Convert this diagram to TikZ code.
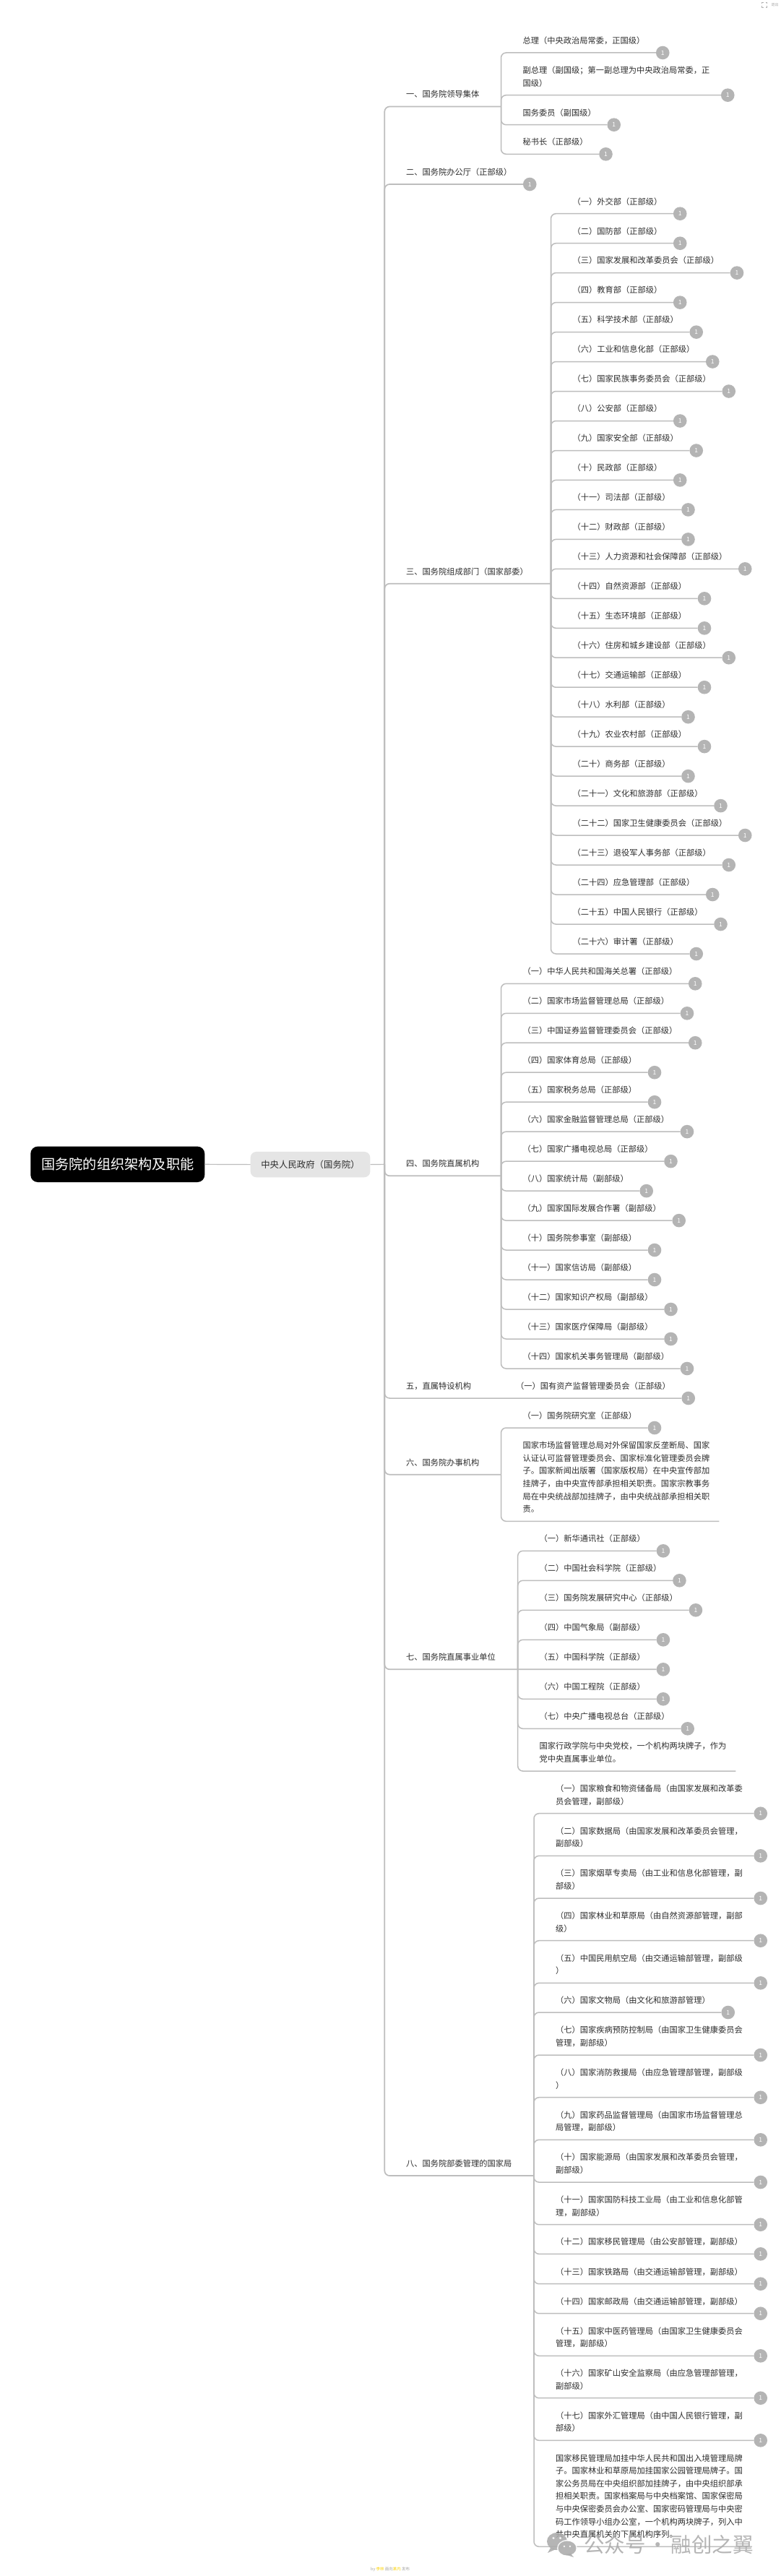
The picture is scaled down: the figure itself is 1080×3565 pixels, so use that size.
\documentclass[tikz,border=0pt]{standalone}
\usepackage{fontspec}
\setmainfont{Noto Sans CJK SC}
\newfontfamily\cjk{Noto Sans CJK SC}
\usetikzlibrary{calc}
\definecolor{linec}{HTML}{BDBDBD}
\definecolor{textc}{HTML}{2E2E2E}
\definecolor{badgec}{HTML}{B4B4B4}
\definecolor{wmc}{HTML}{ABABAB}
\tikzset{
  lab/.style={anchor=south west,inner sep=0pt,outer sep=0pt,align=left,text=textc,
     font={\cjk\fontsize{11.25}{17.6}\selectfont}},
  badge/.style={circle,fill=badgec,minimum size=18.6pt,inner sep=0pt,outer sep=0pt,text=white,
     font={\cjk\fontsize{8.5}{9}\selectfont}},
  conn/.style={draw=linec,line width=1.5pt,rounded corners=7pt},
  trunkline/.style={draw=linec,line width=1.7pt,rounded corners=7pt},
}
\newcommand{\tstr}{\rule[-3pt]{0pt}{1pt}}
% id, junction, box x, line y, text
\newcommand{\lfitem}[5]{%
  \node[lab] (t#1) at (#3,#4-9.7) {#5\tstr};
  \coordinate (y#1) at (0,#4);
  \path (t#1.east) ++(25,0) coordinate (x#1);
  \node[badge] (b#1) at (x#1 |- y#1) {1};
  \draw[conn] (#2) |- (b#1.west);
}
% id, line y, trunk x, text
\newcommand{\brnode}[4]{%
  \node[lab] (t#1) at (562,#2-9.7) {#4\tstr};
  \coordinate (j#1) at (#3,#2);
  \draw[trunkline] (J0) |- (j#1);
}
% id, junction, box x, line y, text
\newcommand{\noteitem}[5]{%
  \node[lab] (t#1) at (#3,#4-9.7) {#5\tstr};
  \coordinate (y#1) at (0,#4);
  \path (t#1.east) ++(13,0) coordinate (x#1);
  \coordinate (e#1) at (x#1 |- y#1);
  \draw[conn] (#2) |- (e#1);
}
\begin{document}
\begin{tikzpicture}[x=1pt,y=-1pt]
\useasboundingbox (0,0) rectangle (1080,3565);
\fill[white] (0,0) rectangle (1080,3565);

% root and centre
\node[fill=black,rounded corners=10pt,text=white,minimum width=241pt,minimum height=49.4pt,inner sep=0pt,
  font={\cjk\fontsize{19.2}{24}\selectfont}] (root) at (162.8,1611.3) {国务院的组织架构及职能};
\node[fill=black!10,rounded corners=8pt,text=textc,minimum width=165.6pt,minimum height=35.3pt,inner sep=0pt,
  font={\cjk\fontsize{12.4}{15}\selectfont}] (cent) at (429.5,1611.6) {中央人民政府（国务院）};
\coordinate (J0) at (532.3,1611.3);
\draw[draw=linec,line width=1.2pt] (root.east) -- (cent.west);
\draw[draw=linec,line width=1.2pt] (cent.east) -- (J0);

% 一
\brnode{A}{147.5}{693.5}{一、国务院领导集体}
\lfitem{a1}{jA}{723.5}{73}{总理（中央政治局常委，正国级）}
\lfitem{a2}{jA}{723.5}{131.7}{副总理（副国级；第一副总理为中央政治局常委，正\\国级）}
\lfitem{a3}{jA}{723.5}{172.7}{国务委员（副国级）}
\lfitem{a4}{jA}{723.5}{213.3}{秘书长（正部级）}

% 二
\node[lab] (tB) at (562,255-9.7) {二、国务院办公厅（正部级）\tstr};
\coordinate (yB) at (0,255);
\path (tB.east) ++(25,0) coordinate (xB);
\node[badge] (bB) at (xB |- yB) {1};
\draw[trunkline] (J0) |- (bB.west);

% 三
\brnode{C}{807.7}{762.5}{三、国务院组成部门（国家部委）}
\lfitem{c1}{jC}{792.5}{295.7}{（一）外交部（正部级）}
\lfitem{c2}{jC}{792.5}{336.7}{（二）国防部（正部级）}
\lfitem{c3}{jC}{792.5}{377.6}{（三）国家发展和改革委员会（正部级）}
\lfitem{c4}{jC}{792.5}{418.6}{（四）教育部（正部级）}
\lfitem{c5}{jC}{792.5}{459.6}{（五）科学技术部（正部级）}
\lfitem{c6}{jC}{792.5}{500.5}{（六）工业和信息化部（正部级）}
\lfitem{c7}{jC}{792.5}{541.5}{（七）国家民族事务委员会（正部级）}
\lfitem{c8}{jC}{792.5}{582.5}{（八）公安部（正部级）}
\lfitem{c9}{jC}{792.5}{623.5}{（九）国家安全部（正部级）}
\lfitem{c10}{jC}{792.5}{664.4}{（十）民政部（正部级）}
\lfitem{c11}{jC}{792.5}{705.4}{（十一）司法部（正部级）}
\lfitem{c12}{jC}{792.5}{746.4}{（十二）财政部（正部级）}
\lfitem{c13}{jC}{792.5}{787.3}{（十三）人力资源和社会保障部（正部级）}
\lfitem{c14}{jC}{792.5}{828.3}{（十四）自然资源部（正部级）}
\lfitem{c15}{jC}{792.5}{869.3}{（十五）生态环境部（正部级）}
\lfitem{c16}{jC}{792.5}{910.2}{（十六）住房和城乡建设部（正部级）}
\lfitem{c17}{jC}{792.5}{951.2}{（十七）交通运输部（正部级）}
\lfitem{c18}{jC}{792.5}{992.2}{（十八）水利部（正部级）}
\lfitem{c19}{jC}{792.5}{1033.1}{（十九）农业农村部（正部级）}
\lfitem{c20}{jC}{792.5}{1074.1}{（二十）商务部（正部级）}
\lfitem{c21}{jC}{792.5}{1115.1}{（二十一）文化和旅游部（正部级）}
\lfitem{c22}{jC}{792.5}{1156}{（二十二）国家卫生健康委员会（正部级）}
\lfitem{c23}{jC}{792.5}{1197}{（二十三）退役军人事务部（正部级）}
\lfitem{c24}{jC}{792.5}{1238}{（二十四）应急管理部（正部级）}
\lfitem{c25}{jC}{792.5}{1279}{（二十五）中国人民银行（正部级）}
\lfitem{c26}{jC}{792.5}{1320}{（二十六）审计署（正部级）}

% 四
\brnode{D}{1627.3}{693.5}{四、国务院直属机构}
\lfitem{d1}{jD}{723.5}{1361.3}{（一）中华人民共和国海关总署（正部级）}
\lfitem{d2}{jD}{723.5}{1402.3}{（二）国家市场监督管理总局（正部级）}
\lfitem{d3}{jD}{723.5}{1443.2}{（三）中国证券监督管理委员会（正部级）}
\lfitem{d4}{jD}{723.5}{1484.2}{（四）国家体育总局（正部级）}
\lfitem{d5}{jD}{723.5}{1525.2}{（五）国家税务总局（正部级）}
\lfitem{d6}{jD}{723.5}{1566.1}{（六）国家金融监督管理总局（正部级）}
\lfitem{d7}{jD}{723.5}{1607.1}{（七）国家广播电视总局（正部级）}
\lfitem{d8}{jD}{723.5}{1648.1}{（八）国家统计局（副部级）}
\lfitem{d9}{jD}{723.5}{1689.1}{（九）国家国际发展合作署（副部级）}
\lfitem{d10}{jD}{723.5}{1730}{（十）国务院参事室（副部级）}
\lfitem{d11}{jD}{723.5}{1771}{（十一）国家信访局（副部级）}
\lfitem{d12}{jD}{723.5}{1812}{（十二）国家知识产权局（副部级）}
\lfitem{d13}{jD}{723.5}{1853}{（十三）国家医疗保障局（副部级）}
\lfitem{d14}{jD}{723.5}{1894}{（十四）国家机关事务管理局（副部级）}

% 五
\node[lab] (tE) at (562,1935-9.7) {五，直属特设机构\tstr};
\lfitem{e1}{J0}{714}{1935}{（一）国有资产监督管理委员会（正部级）}

% 六
\brnode{F}{2040.7}{693.5}{六、国务院办事机构}
\lfitem{f1}{jF}{723.5}{1976}{（一）国务院研究室（正部级）}
\noteitem{f2}{jF}{723.5}{2105.3}{国家市场监督管理总局对外保留国家反垄断局、国家\\认证认可监督管理委员会、国家标准化管理委员会牌\\子。国家新闻出版署（国家版权局）在中央宣传部加\\挂牌子，由中央宣传部承担相关职责。国家宗教事务\\局在中央统战部加挂牌子，由中央统战部承担相关职\\责。}

% 七
\node[lab] (tG) at (562,2310.3-9.7) {七、国务院直属事业单位\tstr};
\coordinate (jG) at (716.7,2310.3);
\lfitem{g1}{jG}{746.7}{2146.3}{（一）新华通讯社（正部级）}
\lfitem{g2}{jG}{746.7}{2187.3}{（二）中国社会科学院（正部级）}
\lfitem{g3}{jG}{746.7}{2228.3}{（三）国务院发展研究中心（正部级）}
\lfitem{g4}{jG}{746.7}{2269.3}{（四）中国气象局（副部级）}
\node[lab] (tg5) at (746.7,2310.3-9.7) {（五）中国科学院（正部级）\tstr};
\coordinate (yg5) at (0,2310.3);
\path (tg5.east) ++(25,0) coordinate (xg5);
\node[badge] (bg5) at (xg5 |- yg5) {1};
\draw[trunkline] (J0) |- (bg5.west);
\lfitem{g6}{jG}{746.7}{2351.3}{（六）中国工程院（正部级）}
\lfitem{g7}{jG}{746.7}{2392.3}{（七）中央广播电视总台（正部级）}
\noteitem{g8}{jG}{746.7}{2451}{国家行政学院与中央党校，一个机构两块牌子，作为\\党中央直属事业单位。}

% 八
\brnode{H}{3011}{739}{八、国务院部委管理的国家局}
\lfitem{h1}{jH}{769}{2509.7}{（一）国家粮食和物资储备局（由国家发展和改革委\\员会管理，副部级）}
\lfitem{h2}{jH}{769}{2568.3}{（二）国家数据局（由国家发展和改革委员会管理，\\副部级）}
\lfitem{h3}{jH}{769}{2627}{（三）国家烟草专卖局（由工业和信息化部管理，副\\部级）}
\lfitem{h4}{jH}{769}{2685.7}{（四）国家林业和草原局（由自然资源部管理，副部\\级）}
\lfitem{h5}{jH}{769}{2744.3}{（五）中国民用航空局（由交通运输部管理，副部级\\）}
\lfitem{h6}{jH}{769}{2785}{（六）国家文物局（由文化和旅游部管理）}
\lfitem{h7}{jH}{769}{2844}{（七）国家疾病预防控制局（由国家卫生健康委员会\\管理，副部级）}
\lfitem{h8}{jH}{769}{2902.7}{（八）国家消防救援局（由应急管理部管理，副部级\\）}
\lfitem{h9}{jH}{769}{2961.3}{（九）国家药品监督管理局（由国家市场监督管理总\\局管理，副部级）}
\lfitem{h10}{jH}{769}{3020}{（十）国家能源局（由国家发展和改革委员会管理，\\副部级）}
\lfitem{h11}{jH}{769}{3078.7}{（十一）国家国防科技工业局（由工业和信息化部管\\理，副部级）}
\lfitem{h12}{jH}{769}{3119.3}{（十二）国家移民管理局（由公安部管理，副部级）}
\lfitem{h13}{jH}{769}{3160.7}{（十三）国家铁路局（由交通运输部管理，副部级）}
\lfitem{h14}{jH}{769}{3201.7}{（十四）国家邮政局（由交通运输部管理，副部级）}
\lfitem{h15}{jH}{769}{3260.3}{（十五）国家中医药管理局（由国家卫生健康委员会\\管理，副部级）}
\lfitem{h16}{jH}{769}{3318.7}{（十六）国家矿山安全监察局（由应急管理部管理，\\副部级）}
\lfitem{h17}{jH}{769}{3377.3}{（十七）国家外汇管理局（由中国人民银行管理，副\\部级）}
\noteitem{h18}{jH}{769}{3524.3}{国家移民管理局加挂中华人民共和国出入境管理局牌\\子。国家林业和草原局加挂国家公园管理局牌子。国\\家公务员局在中央组织部加挂牌子，由中央组织部承\\担相关职责。国家档案局与中央档案馆、国家保密局\\与中央保密委员会办公室、国家密码管理局与中央密\\码工作领导小组办公室，一个机构两块牌子，列入中\\共中央直属机关的下属机构序列。}

% watermark
\begin{scope}[opacity=0.88]
  \fill[wmc] (771,3517) ellipse (14 and 12);
  \fill[wmc] (762,3526) -- (758,3533) -- (769,3528) -- cycle;
  \fill[white] (785,3526.5) ellipse (14 and 11.5);
  \fill[wmc] (785,3526.5) ellipse (12.5 and 10);
  \fill[wmc] (790,3534) -- (794,3539) -- (782,3535) -- cycle;
  \fill[white] (766,3512.5) circle (1.7) (775.5,3512.5) circle (1.7);
  \fill[white] (781,3524) circle (1.4) (789,3524) circle (1.4);
  \node[anchor=west,inner sep=0pt,text=wmc,font={\cjk\fontsize{28.5}{30}\selectfont}] (wm) at (808,3521.5) {公众号\makebox[35pt][c]{·}融创之翼};
\end{scope}

% small marks
\node[anchor=west,inner sep=0pt,text=gray!70,font={\cjk\fontsize{5}{6}\selectfont}] (topt) at (1067.5,7) {退出};
\draw[gray!60,line width=0.6pt] (1054.5,5.3) |- (1056.5,3.3) (1059.5,3.3) -| (1061.5,5.3) (1061.5,8.3) |- (1059.5,10.3) (1056.5,10.3) -| (1054.5,8.3);
\node[anchor=west,inner sep=0pt,text=gray!70,font={\cjk\fontsize{5.5}{6}\selectfont}] (bott) at (513,3556) {by \textcolor{yellow!70!orange}{李林} 面向\textcolor{yellow!70!orange}{某内} 发布};
\end{tikzpicture}
\end{document}
